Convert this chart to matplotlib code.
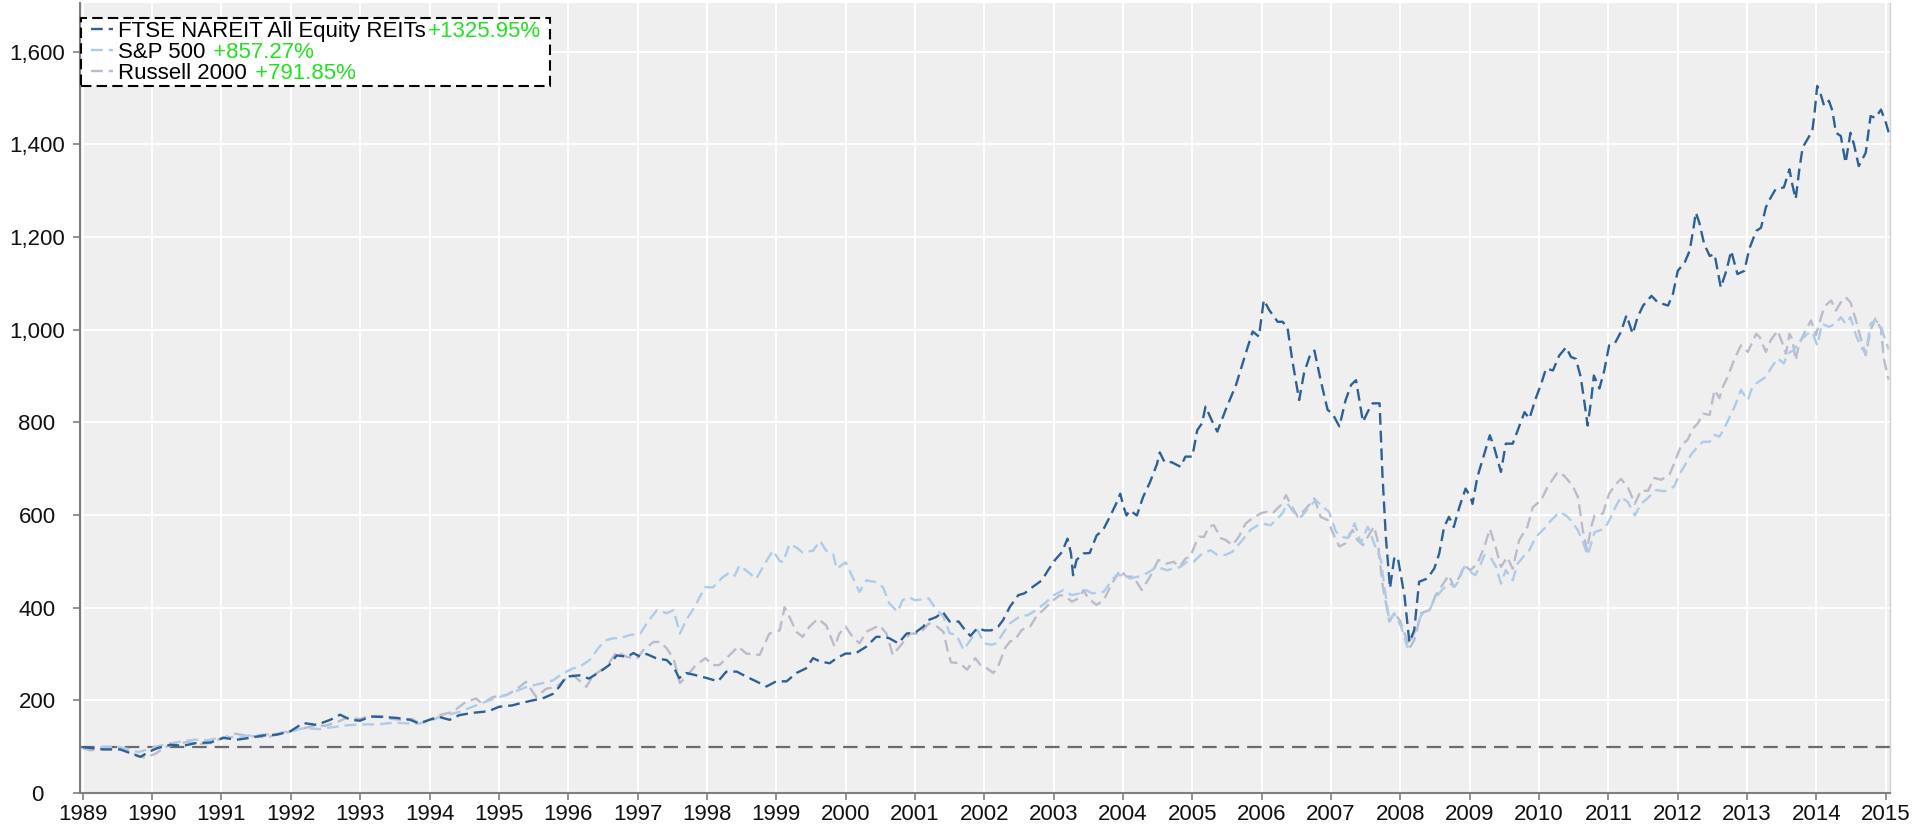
import matplotlib
matplotlib.use("Agg")
import matplotlib.pyplot as plt
from matplotlib.ticker import StrMethodFormatter
from matplotlib.lines import Line2D
from matplotlib.offsetbox import TextArea, HPacker, DrawingArea

plt.rcParams['font.family'] = ['Liberation Sans', 'DejaVu Sans']

# ---------------- data ----------------
series_names = ["FTSE NAREIT All Equity REITs", "S&P 500", "Russell 2000"]
series_changes = ["+1325.95%", " +857.27%", " +791.85%"]
baseline_value = 100

reit_t = [1989.00, 1989.30, 1989.54, 1989.65, 1989.83, 1989.97, 1990.08, 1990.26, 1990.45, 1990.64,
          1990.84, 1991.03, 1991.22, 1991.41, 1991.60, 1991.80, 1991.99, 1992.18, 1992.37, 1992.57,
          1992.71, 1992.86, 1993.00, 1993.15, 1993.34, 1993.53, 1993.72, 1993.85, 1994.00, 1994.14,
          1994.29, 1994.43, 1994.62, 1994.76, 1994.86, 1995.00, 1995.19, 1995.29, 1995.49, 1995.63,
          1995.78, 1995.87, 1995.97, 1996.16, 1996.30, 1996.45, 1996.59, 1996.70, 1996.85, 1996.94,
          1997.04, 1997.13, 1997.28, 1997.42, 1997.52, 1997.60, 1997.70, 1997.82, 1998.00, 1998.16,
          1998.28, 1998.43, 1998.57, 1998.71, 1998.86, 1999.00, 1999.15, 1999.29, 1999.43, 1999.53,
          1999.63, 1999.77, 1999.87, 2000.00, 2000.14, 2000.30, 2000.44, 2000.54, 2000.63, 2000.76,
          2000.88, 2001.02, 2001.12, 2001.19, 2001.31, 2001.40, 2001.50, 2001.63, 2001.70, 2001.80,
          2001.90, 2002.00, 2002.10, 2002.20, 2002.27, 2002.37, 2002.49, 2002.58, 2002.70, 2002.83,
          2002.92, 2003.02, 2003.12, 2003.20, 2003.25, 2003.28, 2003.33, 2003.43, 2003.52, 2003.62,
          2003.71, 2003.81, 2003.90, 2003.96, 2004.01, 2004.05, 2004.10, 2004.20, 2004.29, 2004.39,
          2004.49, 2004.53, 2004.60, 2004.70, 2004.83, 2004.90, 2005.00, 2005.07, 2005.14, 2005.19,
          2005.29, 2005.36, 2005.48, 2005.63, 2005.77, 2005.87, 2005.96, 2006.03, 2006.11, 2006.23,
          2006.30, 2006.37, 2006.44, 2006.54, 2006.61, 2006.69, 2006.76, 2006.85, 2006.95, 2007.02,
          2007.12, 2007.21, 2007.29, 2007.36, 2007.46, 2007.53, 2007.60, 2007.70, 2007.74, 2007.79,
          2007.85, 2007.91, 2007.96, 2008.06, 2008.13, 2008.20, 2008.27, 2008.39, 2008.49, 2008.56,
          2008.63, 2008.70, 2008.77, 2008.85, 2008.94, 2009.01, 2009.04, 2009.11, 2009.21, 2009.29,
          2009.35, 2009.45, 2009.52, 2009.62, 2009.71, 2009.79, 2009.86, 2009.95, 2010.03, 2010.10,
          2010.20, 2010.29, 2010.39, 2010.46, 2010.53, 2010.60, 2010.65, 2010.70, 2010.75, 2010.79,
          2010.87, 2010.94, 2011.01, 2011.09, 2011.18, 2011.26, 2011.35, 2011.42, 2011.50, 2011.62,
          2011.71, 2011.86, 2011.93, 2012.00, 2012.10, 2012.17, 2012.22, 2012.26, 2012.31, 2012.38,
          2012.46, 2012.53, 2012.62, 2012.70, 2012.77, 2012.86, 2012.96, 2013.03, 2013.13, 2013.20,
          2013.27, 2013.34, 2013.41, 2013.53, 2013.61, 2013.65, 2013.70, 2013.75, 2013.80, 2013.87,
          2013.94, 2013.97, 2014.01, 2014.06, 2014.11, 2014.18, 2014.23, 2014.28, 2014.35, 2014.42,
          2014.49, 2014.54, 2014.61, 2014.71, 2014.78, 2014.85, 2014.93, 2015.00, 2015.04]
reit_v = [99, 94, 94, 88, 78, 90, 97, 104, 102, 108,
          109, 119, 115, 119, 124, 126, 133, 151, 147, 158,
          169, 158, 156, 165, 164, 162, 158, 150, 158, 164,
          158, 168, 173, 175, 177, 186, 189, 193, 200, 204,
          214, 229, 251, 254, 247, 261, 276, 297, 294, 302,
          294, 300, 290, 287, 272, 248, 259, 255, 248, 241,
          262, 262, 251, 241, 230, 241, 241, 259, 269, 291,
          284, 280, 291, 301, 301, 316, 337, 337, 334, 323,
          344, 348, 359, 373, 380, 391, 370, 370, 356, 339,
          356, 351, 351, 359, 373, 402, 427, 431, 445, 459,
          481, 503, 520, 549, 517, 470, 503, 517, 518, 556,
          567, 596, 624, 646, 617, 599, 610, 599, 639, 671,
          710, 735, 714, 714, 704, 726, 726, 783, 798, 834,
          801, 780, 827, 881, 949, 996, 985, 1064, 1042, 1017,
          1017, 1006, 935, 848, 906, 942, 955, 891, 827, 819,
          791, 848, 881, 891, 801, 823, 841, 841, 690, 553,
          442, 506, 510, 424, 325, 352, 456, 463, 485, 517,
          574, 596, 574, 617, 657, 639, 624, 682, 732, 772,
          747, 693, 754, 754, 790, 822, 808, 851, 883, 916,
          912, 944, 962, 941, 937, 898, 847, 793, 847, 901,
          873, 912, 966, 970, 995, 1031, 991, 1027, 1052, 1073,
          1059, 1052, 1077, 1127, 1145, 1170, 1213, 1253, 1231, 1185,
          1159, 1163, 1091, 1127, 1170, 1120, 1127, 1174, 1213, 1220,
          1264, 1285, 1303, 1307, 1346, 1314, 1282, 1343, 1393, 1411,
          1429, 1465, 1526, 1508, 1483, 1494, 1472, 1425, 1418, 1360,
          1425, 1400, 1353, 1382, 1461, 1457, 1475, 1447, 1426]

sp_t = [1989.00, 1989.15, 1989.30, 1989.50, 1989.65, 1989.80, 1989.95, 1990.10, 1990.30, 1990.45,
        1990.60, 1990.80, 1991.00, 1991.20, 1991.40, 1991.60, 1991.80, 1992.00, 1992.20, 1992.40,
        1992.60, 1992.80, 1993.00, 1993.25, 1993.50, 1993.70, 1993.85, 1994.00, 1994.14, 1994.43,
        1994.62, 1994.86, 1995.15, 1995.40, 1995.60, 1995.78, 1995.92, 1996.07, 1996.16, 1996.31,
        1996.45, 1996.55, 1996.65, 1996.75, 1996.89, 1997.04, 1997.13, 1997.28, 1997.42, 1997.52,
        1997.61, 1997.70, 1997.82, 1997.97, 1998.09, 1998.13, 1998.23, 1998.33, 1998.40, 1998.47,
        1998.57, 1998.71, 1998.86, 1998.95, 1999.05, 1999.10, 1999.19, 1999.29, 1999.38, 1999.53,
        1999.63, 1999.72, 1999.82, 1999.87, 2000.00, 2000.10, 2000.20, 2000.30, 2000.44, 2000.54,
        2000.63, 2000.75, 2000.82, 2000.91, 2001.00, 2001.20, 2001.29, 2001.41, 2001.50, 2001.60,
        2001.70, 2001.80, 2001.90, 2002.00, 2002.10, 2002.18, 2002.27, 2002.37, 2002.51, 2002.63,
        2002.75, 2002.87, 2003.00, 2003.14, 2003.26, 2003.38, 2003.47, 2003.55, 2003.72, 2003.84,
        2003.90, 2004.00, 2004.10, 2004.22, 2004.34, 2004.49, 2004.63, 2004.75, 2004.83, 2004.92,
        2005.02, 2005.12, 2005.26, 2005.36, 2005.48, 2005.58, 2005.70, 2005.84, 2005.99, 2006.13,
        2006.23, 2006.30, 2006.37, 2006.47, 2006.57, 2006.69, 2006.78, 2006.88, 2006.97, 2007.07,
        2007.17, 2007.24, 2007.34, 2007.43, 2007.53, 2007.62, 2007.72, 2007.77, 2007.84, 2007.91,
        2008.01, 2008.10, 2008.20, 2008.30, 2008.42, 2008.50, 2008.61, 2008.71, 2008.78, 2008.83,
        2008.92, 2009.01, 2009.08, 2009.16, 2009.21, 2009.30, 2009.38, 2009.45, 2009.52, 2009.62,
        2009.69, 2009.79, 2009.86, 2009.95, 2010.07, 2010.17, 2010.29, 2010.39, 2010.46, 2010.56,
        2010.63, 2010.70, 2010.75, 2010.80, 2010.94, 2011.01, 2011.09, 2011.18, 2011.28, 2011.38,
        2011.47, 2011.57, 2011.69, 2011.81, 2011.95, 2012.02, 2012.12, 2012.19, 2012.29, 2012.36,
        2012.46, 2012.53, 2012.60, 2012.67, 2012.74, 2012.82, 2012.91, 2013.01, 2013.06, 2013.13,
        2013.27, 2013.34, 2013.44, 2013.53, 2013.58, 2013.67, 2013.77, 2013.87, 2013.94, 2014.01,
        2014.08, 2014.18, 2014.28, 2014.35, 2014.42, 2014.49, 2014.57, 2014.64, 2014.71, 2014.78,
        2014.85, 2014.93, 2014.97, 2015.04]
sp_v = [97, 95, 100, 100, 95, 88, 95, 102, 108, 112,
        115, 114, 120, 121, 124, 126, 128, 135, 140, 138,
        142, 146, 148, 148, 152, 150, 150, 155, 164, 175,
        186, 200, 214, 229, 236, 243, 258, 269, 272, 287,
        316, 330, 334, 334, 341, 344, 366, 395, 388, 395,
        344, 373, 401, 444, 444, 451, 466, 476, 469, 491,
        480, 462, 501, 523, 501, 498, 537, 530, 519, 523,
        544, 523, 516, 484, 498, 466, 434, 459, 455, 444,
        409, 391, 416, 423, 416, 420, 399, 381, 345, 341,
        309, 330, 352, 323, 320, 323, 345, 366, 381, 384,
        395, 409, 427, 438, 427, 431, 438, 431, 434, 459,
        470, 470, 463, 467, 474, 488, 481, 485, 488, 499,
        499, 514, 524, 514, 514, 521, 542, 568, 582, 578,
        593, 604, 625, 604, 596, 618, 632, 618, 607, 564,
        553, 550, 582, 539, 575, 539, 503, 445, 370, 388,
        359, 315, 345, 384, 395, 420, 440, 452, 445, 455,
        488, 477, 470, 495, 513, 509, 488, 452, 481, 459,
        495, 513, 524, 552, 570, 588, 606, 599, 588, 567,
        542, 513, 538, 563, 570, 588, 614, 639, 628, 599,
        624, 637, 654, 651, 662, 687, 712, 730, 748, 758,
        758, 773, 769, 787, 809, 834, 870, 848, 870, 884,
        898, 916, 938, 927, 948, 956, 977, 991, 995, 966,
        1013, 1006, 1013, 1027, 1013, 1027, 988, 963, 948, 1013,
        1020, 1009, 988, 957]

rut_t = [1989.00, 1989.10, 1989.30, 1989.50, 1989.65, 1989.80, 1989.90, 1990.05, 1990.20, 1990.35,
         1990.50, 1990.70, 1990.85, 1991.00, 1991.20, 1991.35, 1991.50, 1991.65, 1991.80, 1992.00,
         1992.20, 1992.35, 1992.50, 1992.70, 1992.80, 1993.00, 1993.15, 1993.30, 1993.45, 1993.60,
         1993.75, 1993.85, 1994.00, 1994.14, 1994.33, 1994.52, 1994.67, 1994.76, 1994.91, 1995.10,
         1995.24, 1995.39, 1995.54, 1995.68, 1995.83, 1995.97, 1996.07, 1996.16, 1996.26, 1996.36,
         1996.55, 1996.70, 1996.84, 1996.99, 1997.08, 1997.23, 1997.33, 1997.42, 1997.52, 1997.61,
         1997.70, 1997.84, 1997.98, 1998.08, 1998.18, 1998.33, 1998.45, 1998.57, 1998.76, 1998.90,
         1999.05, 1999.12, 1999.19, 1999.29, 1999.38, 1999.48, 1999.60, 1999.72, 1999.84, 1999.91,
         2000.00, 2000.10, 2000.20, 2000.30, 2000.49, 2000.59, 2000.68, 2000.78, 2000.93, 2001.07,
         2001.20, 2001.32, 2001.41, 2001.48, 2001.52, 2001.65, 2001.75, 2001.87, 2001.94, 2002.03,
         2002.13, 2002.20, 2002.30, 2002.37, 2002.44, 2002.54, 2002.66, 2002.75, 2002.85, 2002.97,
         2003.09, 2003.18, 2003.26, 2003.36, 2003.43, 2003.50, 2003.62, 2003.72, 2003.84, 2003.96,
         2004.05, 2004.15, 2004.27, 2004.39, 2004.51, 2004.63, 2004.73, 2004.82, 2004.90, 2004.97,
         2005.05, 2005.10, 2005.17, 2005.24, 2005.31, 2005.41, 2005.48, 2005.58, 2005.67, 2005.77,
         2005.87, 2005.99, 2006.08, 2006.16, 2006.28, 2006.35, 2006.42, 2006.52, 2006.64, 2006.76,
         2006.85, 2006.95, 2007.05, 2007.12, 2007.21, 2007.31, 2007.38, 2007.46, 2007.53, 2007.62,
         2007.67, 2007.74, 2007.84, 2007.91, 2007.99, 2008.06, 2008.13, 2008.20, 2008.30, 2008.42,
         2008.51, 2008.60, 2008.70, 2008.77, 2008.85, 2008.92, 2009.01, 2009.11, 2009.21, 2009.29,
         2009.38, 2009.45, 2009.54, 2009.62, 2009.71, 2009.83, 2009.91, 2010.03, 2010.12, 2010.27,
         2010.36, 2010.48, 2010.56, 2010.63, 2010.69, 2010.75, 2010.80, 2010.92, 2011.01, 2011.11,
         2011.18, 2011.28, 2011.38, 2011.47, 2011.57, 2011.66, 2011.76, 2011.88, 2011.95, 2012.05,
         2012.14, 2012.22, 2012.29, 2012.36, 2012.46, 2012.53, 2012.60, 2012.65, 2012.72, 2012.82,
         2012.91, 2013.01, 2013.13, 2013.18, 2013.27, 2013.34, 2013.44, 2013.51, 2013.56, 2013.61,
         2013.65, 2013.70, 2013.75, 2013.82, 2013.92, 2013.99, 2014.08, 2014.13, 2014.21, 2014.28,
         2014.35, 2014.42, 2014.49, 2014.57, 2014.64, 2014.71, 2014.78, 2014.85, 2014.93, 2014.97,
         2015.04]
rut_v = [97, 92, 95, 100, 90, 80, 76, 85, 100, 106,
         110, 106, 108, 118, 128, 124, 122, 120, 126, 133,
         140, 146, 145, 155, 162, 160, 166, 166, 160, 158,
         160, 150, 158, 168, 175, 196, 204, 193, 207, 211,
         222, 240, 207, 225, 229, 247, 254, 243, 229, 254,
         272, 305, 294, 290, 308, 326, 326, 312, 290, 237,
         251, 276, 291, 276, 276, 298, 316, 301, 298, 344,
         351, 401, 380, 348, 337, 359, 376, 362, 316, 344,
         359, 337, 323, 348, 362, 344, 298, 316, 344, 344,
         366, 359, 348, 302, 282, 280, 266, 291, 277, 270,
         259, 273, 313, 327, 330, 352, 359, 381, 395, 413,
         427, 424, 413, 420, 438, 420, 406, 416, 452, 481,
         467, 467, 438, 467, 503, 495, 499, 488, 506, 510,
         540, 553, 553, 575, 578, 550, 546, 535, 553, 582,
         593, 604, 607, 604, 622, 643, 622, 596, 614, 636,
         596, 589, 553, 532, 539, 568, 546, 535, 553, 575,
         546, 452, 370, 388, 373, 345, 312, 330, 388, 395,
         427, 448, 470, 445, 466, 491, 481, 495, 531, 570,
         527, 488, 509, 484, 545, 574, 617, 632, 660, 693,
         685, 664, 639, 567, 524, 574, 599, 603, 646, 667,
         678, 660, 624, 653, 652, 680, 676, 687, 712, 751,
         762, 787, 798, 819, 816, 870, 852, 877, 898, 938,
         966, 952, 991, 984, 952, 977, 998, 970, 948, 991,
         980, 934, 970, 991, 1020, 988, 1034, 1052, 1063, 1041,
         1059, 1070, 1059, 1020, 980, 945, 999, 1024, 1002, 938,
         892]

year_ticks = list(range(1989, 2016))
value_ticks = list(range(0, 1601, 200))

# ---------------- styling ----------------
W, H = 1927, 825
DPI = 100
colors = ["#2d6196", "#aecbe9", "#bcbbcb"]
green = "#22e022"
bg = "#efefef"
spine_col = "#7f7f7f"
FS_TICK = 16
FS_LEG = 16

fig = plt.figure(figsize=(W / DPI, H / DPI), dpi=DPI)
ax = fig.add_axes([80 / W, 1 - 793 / H, (1890 - 80) / W, (793 - 3) / H])
ax.set_facecolor(bg)

dash = (5, 2.5)
lw = 1.7
xs = [reit_t, sp_t, rut_t]
ys = [reit_v, sp_v, rut_v]
zorders = [5, 4, 3]
for t, v, c, z in zip(xs, ys, colors, zorders):
    ax.plot(t, v, color=c, lw=lw, linestyle=(0, dash), zorder=z)

ax.axhline(baseline_value, color="#6b6b6b", lw=1.6, linestyle=(0, (6.5, 3.6)), zorder=2.5)

ax.set_xlim(1988.96, 2015.06)
ax.set_ylim(0, 1705)
ax.set_xticks(year_ticks)
ax.set_xticklabels([str(y) for y in year_ticks])
ax.set_yticks(value_ticks)
ax.yaxis.set_major_formatter(StrMethodFormatter("{x:,.0f}"))

ax.grid(True, color="white", lw=1.4, zorder=0)
ax.set_axisbelow(True)

ax.spines["top"].set_visible(False)
ax.spines["right"].set_color("#d2d2d2")
ax.spines["right"].set_linewidth(1.0)
for s in ["left", "bottom"]:
    ax.spines[s].set_color(spine_col)
    ax.spines[s].set_linewidth(1.5)

ax.tick_params(axis="x", direction="out", length=5, width=1.2, color=spine_col,
               labelsize=FS_TICK, pad=3, labelcolor="#111111")
ax.tick_params(axis="y", direction="out", length=5, width=1.2, color=spine_col,
               labelsize=FS_TICK, pad=26, labelcolor="#111111")
for lbl in ax.get_yticklabels():
    lbl.set_horizontalalignment("center")

# ---------------- legend ----------------
leg_handles = [Line2D([], [], color=c, lw=lw, linestyle=(0, dash)) for c in colors]
leg = ax.legend(leg_handles, series_names, loc="upper left",
                bbox_to_anchor=(81 / W, 1 - 18 / H), bbox_transform=fig.transFigure,
                borderaxespad=0, frameon=True, fancybox=False, framealpha=1,
                edgecolor="black", facecolor="white", fontsize=FS_LEG,
                handlelength=1.0, handletextpad=0.25, labelspacing=0.0, borderpad=0.12)
frame = leg.get_frame()
frame.set_linestyle((0, (5, 2.5)))
frame.set_linewidth(1.5)
leg.set_zorder(10)

rows = []
for col in leg._legend_handle_box.get_children():
    rows.extend(col.get_children())
for row, pct in zip(rows, series_changes):
    kids = row.get_children()
    left_pad = DrawingArea(5, 1, 0, 0)
    hbox = HPacker(children=[left_pad, kids[0]], align="center", pad=0, sep=0)
    pct_area = TextArea(pct, textprops=dict(color=green, fontsize=FS_LEG))
    right_pad = DrawingArea(4, 1, 0, 0)
    tbox = HPacker(children=[kids[1], pct_area, right_pad], align="baseline", pad=0, sep=1)
    for b in (left_pad, hbox, pct_area, right_pad, tbox):
        b.set_figure(fig)
    kids[0] = hbox
    kids[1] = tbox

fig.savefig("out.png", dpi=DPI)
